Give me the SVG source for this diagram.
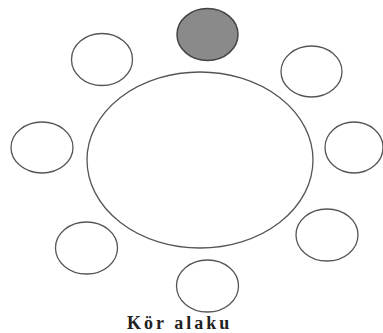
<svg xmlns="http://www.w3.org/2000/svg" width="383" height="333" viewBox="0 0 383 333">
<style>
.n{fill:#fff;stroke:#555;stroke-width:1.3}
.f{fill:#8a8a8a;stroke:#444;stroke-width:1.5}
.t{font-family:"Liberation Serif",serif;font-weight:bold;font-size:18px;fill:#222;letter-spacing:3px}
</style>
<rect width="383" height="333" fill="#fff"/>
<g id="table"><ellipse class="n" cx="200" cy="160" rx="113" ry="88"/></g>
<g id="seat-top"><ellipse class="f" cx="207.5" cy="34.5" rx="30.5" ry="26"/></g>
<g id="seat-topleft"><ellipse class="n" cx="102" cy="59.5" rx="30.5" ry="26"/></g>
<g id="seat-topright"><ellipse class="n" cx="311.5" cy="71.5" rx="30.5" ry="25.5"/></g>
<g id="seat-left"><ellipse class="n" cx="42" cy="147.5" rx="31" ry="25.5"/></g>
<g id="seat-right"><ellipse class="n" cx="354" cy="147.5" rx="29" ry="25.5"/></g>
<g id="seat-bottomleft"><ellipse class="n" cx="86.5" cy="248" rx="31" ry="26"/></g>
<g id="seat-bottomright"><ellipse class="n" cx="327" cy="235" rx="31" ry="26"/></g>
<g id="seat-bottom"><ellipse class="n" cx="207.5" cy="286" rx="31" ry="26"/></g>
<g id="connectors"></g>
<text class="t" x="127" y="329">Kör alaku</text>
</svg>
